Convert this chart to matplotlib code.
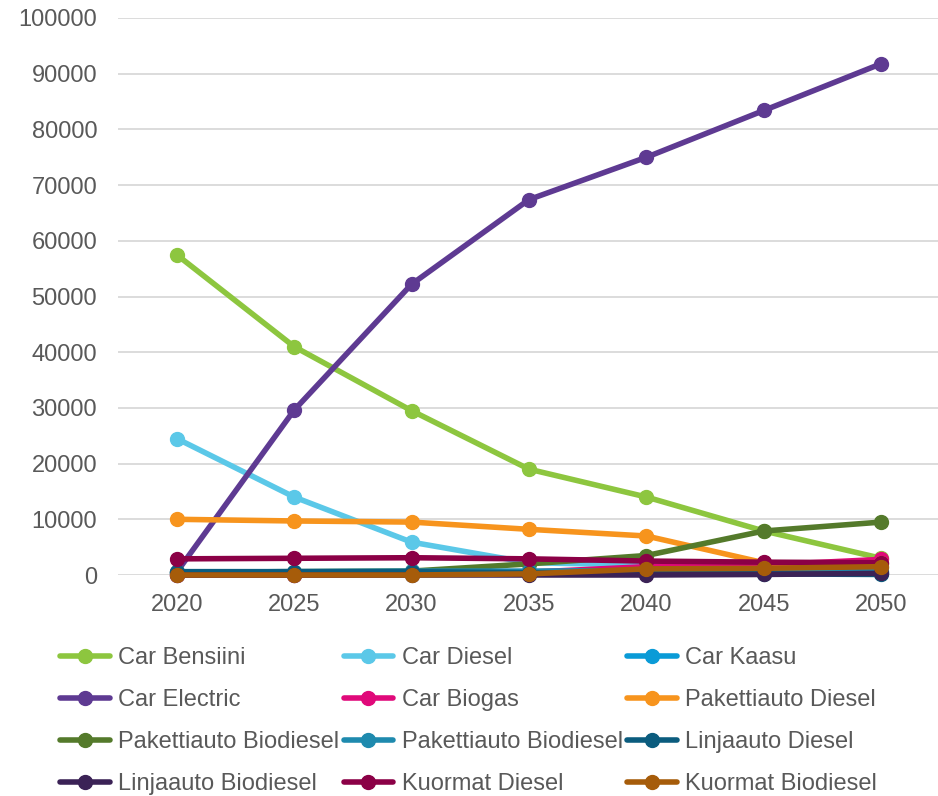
import numpy as np
import matplotlib.pyplot as plt

plt.rcParams['font.family'] = ['Liberation Sans', 'DejaVu Sans']

years = ['2020', '2025', '2030', '2035', '2040', '2045', '2050']

car_bensiini = [57500, 41000, 29500, 19000, 14000, 7900, 3000]
car_diesel = [24500, 14000, 5900, 2200, 1800, 1600, 1500]
car_kaasu = [300, 300, 300, 300, 300, 300, 300]
car_electric = [500, 29600, 52200, 67400, 75000, 83400, 91800]
car_biogas = [0, 0, 100, 500, 1500, 1800, 2800]
paketti_diesel = [10000, 9700, 9500, 8200, 7000, 2200, 2200]
paketti_bio = [500, 600, 700, 2000, 3500, 7900, 9500]
paketti_bio2 = [500, 600, 700, 700, 800, 800, 800]
linja_diesel = [600, 600, 600, 400, 300, 200, 100]
linja_bio = [0, 0, 0, 0, 0, 100, 300]
kuormat_diesel = [2900, 3000, 3100, 2900, 2500, 2300, 2200]
kuormat_bio = [0, 0, 0, 200, 1100, 1200, 1500]

names = ['Car Bensiini', 'Car Diesel', 'Car Kaasu', 'Car Electric', 'Car Biogas',
         'Pakettiauto Diesel', 'Pakettiauto Biodiesel', 'Pakettiauto Biodiesel',
         'Linjaauto Diesel', 'Linjaauto Biodiesel', 'Kuormat Diesel', 'Kuormat Biodiesel']
series = [car_bensiini, car_diesel, car_kaasu, car_electric, car_biogas,
          paketti_diesel, paketti_bio, paketti_bio2, linja_diesel, linja_bio,
          kuormat_diesel, kuormat_bio]
colors = ['#8dc63f', '#5bc8e8', '#0a9bd7', '#5e3a92', '#e0097a', '#f7941d',
          '#547a2b', '#1e8aae', '#0b5c7e', '#3b2256', '#8b0046', '#a65c0a']

fig = plt.figure(figsize=(9.38, 7.96), dpi=100)
ax = fig.add_axes([118 / 938, 1 - 575 / 796, 822 / 938, 557 / 796])

x = np.arange(len(years))
handles = []
for vals, name, c in zip(series, names, colors):
    h, = ax.plot(x, vals, color=c, lw=4, marker='o', markersize=10,
                 solid_capstyle='round', label=name, clip_on=False)
    handles.append(h)

ax.set_xlim(-0.5, len(years) - 0.5)
ax.set_ylim(0, 100000)
ax.set_yticks(np.arange(0, 100001, 10000))
ax.set_xticks(x)
ax.set_xticklabels(years)
ax.grid(axis='y', color='#d9d9d9', lw=1.3)
ax.set_axisbelow(True)
for s in ax.spines.values():
    s.set_visible(False)
ax.tick_params(axis='both', length=0, labelsize=17, labelcolor='#595959')
ax.tick_params(axis='y', pad=15)
ax.tick_params(axis='x', pad=14)

# legend rows go left-to-right, matplotlib fills columns first
order = [0, 3, 6, 9, 1, 4, 7, 10, 2, 5, 8, 11]
fig.legend([handles[i] for i in order], [names[i] for i in order],
           ncol=3, loc='upper left', bbox_to_anchor=(60 / 938, 1 - 647 / 796),
           frameon=False, fontsize=17, labelcolor='#595959',
           handlelength=2.1, handletextpad=0.35, columnspacing=0.2,
           labelspacing=0.85, borderaxespad=0, borderpad=0)

fig.savefig('out.png', dpi=100)
